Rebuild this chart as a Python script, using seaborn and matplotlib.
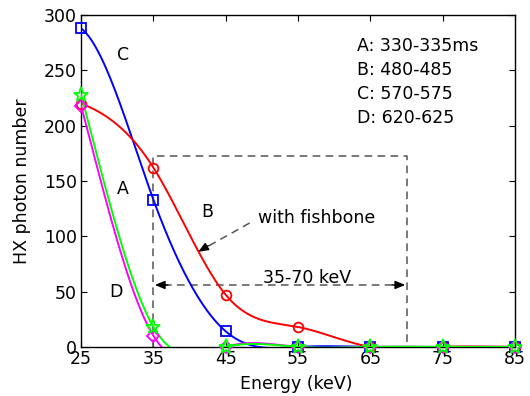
import numpy as np
import pandas as pd
import matplotlib
matplotlib.use("Agg")
import matplotlib.pyplot as plt
import seaborn as sns

energy = [25, 35, 45, 55, 65, 75, 85]
series_a = [228, 18, 0, 0, 0, 0, 0]      # green, star
series_b = [220, 162, 47, 18, 0, 0, 0]   # red, circle
series_c = [288, 133, 14, 0, 0, 0, 0]    # blue, square
series_d = [218, 10, 0, 0, 0, 0, 0]      # magenta, diamond
legend_lines = ["A: 330-335ms", "B: 480-485", "C: 570-575", "D: 620-625"]
x_ticks = [25, 35, 45, 55, 65, 75, 85]
y_ticks = [0, 50, 100, 150, 200, 250, 300]


def spline_clamped(x, y, xs, d0, dn):
    x = np.asarray(x, float); y = np.asarray(y, float)
    n = len(x); h = np.diff(x)
    A = np.zeros((n, n)); r = np.zeros(n)
    A[0, 0] = 2 * h[0]; A[0, 1] = h[0]
    r[0] = 6 * ((y[1] - y[0]) / h[0] - d0)
    A[-1, -2] = h[-1]; A[-1, -1] = 2 * h[-1]
    r[-1] = 6 * (dn - (y[-1] - y[-2]) / h[-1])
    for i in range(1, n - 1):
        A[i, i - 1] = h[i - 1]; A[i, i] = 2 * (h[i - 1] + h[i]); A[i, i + 1] = h[i]
        r[i] = 6 * ((y[i + 1] - y[i]) / h[i] - (y[i] - y[i - 1]) / h[i - 1])
    M = np.linalg.solve(A, r)
    idx = np.clip(np.searchsorted(x, xs) - 1, 0, n - 2)
    x0 = x[idx]; x1 = x[idx + 1]; hh = h[idx]
    return (M[idx] * (x1 - xs) ** 3 / (6 * hh) + M[idx + 1] * (xs - x0) ** 3 / (6 * hh)
            + (y[idx] / hh - M[idx] * hh / 6) * (x1 - xs)
            + (y[idx + 1] / hh - M[idx + 1] * hh / 6) * (xs - x0))


sns.set_style("ticks")
plt.rcParams['font.family'] = ['DejaVu Sans']
plt.rcParams.update({'text.color': 'black', 'axes.labelcolor': 'black',
                     'xtick.color': 'black', 'ytick.color': 'black',
                     'axes.edgecolor': 'black'})

fig = plt.figure(figsize=(5.3, 3.96), dpi=100)
ax = fig.add_axes([0.153, 0.124, 0.819, 0.838])

xs = np.linspace(24, 85, 700)
specs = [
    (series_c, (0, 0, 1), 's', 7, -5.0),
    (series_b, (1, 0, 0), 'o', 7, -2.5),
    (series_d, (1, 0, 1), 'D', 6.5, -25.0),
    (series_a, (0, 1, 0), '*', 11, -25.0),
]
for vals, col, mk, ms, d0 in specs:
    ys = spline_clamped(energy, vals, xs, d0, 0.0)
    sns.lineplot(x=xs, y=ys, color=col, lw=1.4, ax=ax, zorder=3)
for vals, col, mk, ms, d0 in specs:
    ax.plot(energy, vals, linestyle='none', marker=mk, ms=ms, mfc='none',
            mec=col, mew=1.3, zorder=4, clip_on=False)

# dashed box
dc = '#555555'
ax.plot([35, 35, 70, 70], [0, 173, 173, 0], ls=(0, (5, 3.5)), color=dc, lw=1.1, zorder=2)
# double arrow 35-70
ax.plot([36.5, 68.5], [56, 56], ls=(0, (5, 3.5)), color=dc, lw=1.1, zorder=2)
for tip, tail in [((35.2, 56), (37.0, 56)), ((69.8, 56), (68.0, 56))]:
    ax.annotate('', xy=tip, xytext=tail,
                arrowprops=dict(arrowstyle='-|>,head_length=0.6,head_width=0.25',
                                color='black', lw=1.0, shrinkA=0, shrinkB=0))
# fishbone arrow
ax.plot([48.3, 42.3], [112, 90], ls=(0, (5, 3.5)), color=dc, lw=1.1, zorder=2)
ax.annotate('', xy=(41.2, 86), xytext=(42.6, 91.5),
            arrowprops=dict(arrowstyle='-|>,head_length=0.6,head_width=0.25',
                            color='black', lw=1.0, shrinkA=0, shrinkB=0))

fs = 12.5
ax.text(49.5, 112, "with fishbone", fontsize=fs, va='baseline', ha='left')
ax.text(50.2, 58, "35-70 keV", fontsize=fs, va='baseline', ha='left')
ax.text(30.8, 259.5, "C", fontsize=fs, va='baseline', ha='center')
ax.text(30.7, 138, "A", fontsize=fs, va='baseline', ha='center')
ax.text(29.85, 45, "D", fontsize=fs, va='baseline', ha='center')
ax.text(42.5, 117.5, "B", fontsize=fs, va='baseline', ha='center')
for i, s in enumerate(legend_lines):
    ax.text(63.2, 267.5 - i * 21.7, s, fontsize=fs, va='baseline', ha='left')

ax.set_xlim(25, 85)
ax.set_ylim(0, 300)
ax.set_xticks(x_ticks)
ax.set_yticks(y_ticks)
ax.tick_params(direction='in', top=True, right=True, labelsize=fs, length=4, width=0.8)
ax.tick_params(axis='x', pad=2)
ax.tick_params(axis='y', pad=3)
for sp in ax.spines.values():
    sp.set_visible(True)
    sp.set_linewidth(1.0)
    sp.set_color('black')
ax.set_xlabel("Energy (keV)", fontsize=fs)
ax.set_ylabel("HX photon number", fontsize=fs)
ax.xaxis.set_label_coords(0.495, -0.085)
ax.yaxis.set_label_coords(-0.115, 0.5)

fig.savefig("out.png", dpi=100)
